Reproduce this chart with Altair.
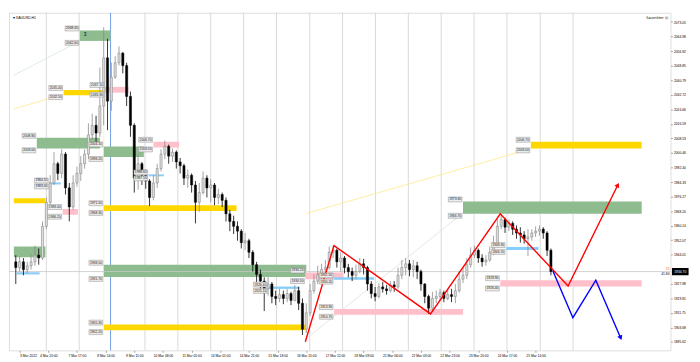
import altair as alt
import pandas as pd

# ---------------- candle data (price) ----------------
first_open = 1940.1
closes = [
    1936.9, 1940.1, 1935.8, 1937.9, 1940.1, 1943.8, 1942.2, 1959.8, 1973.1, 1983.8,
    1994.5, 1989.1, 1999.8, 1981.1, 1970.5, 1983.8, 1989.1, 1994.5, 1999.8, 2010.5,
    2015.8, 2011.5, 2026.5, 2053.2, 2029.2, 2042.5, 2050.5, 2055.8, 2048.9, 2031.8,
    2015.8, 1986.5, 1994.5, 1988.1, 1984.9, 1975.8, 1983.8, 1991.8, 1999.8, 2004.1,
    1998.7, 2000.9, 1995.5, 1993.4, 1986.5, 1988.1, 1982.7, 1973.1, 1978.5, 1986.5,
    1981.1, 1982.7, 1975.8, 1977.4, 1974.2, 1966.7, 1962.5, 1959.8, 1957.1, 1950.7,
    1951.8, 1945.4, 1938.5, 1933.1, 1929.4, 1925.1, 1927.8, 1920.9, 1919.8, 1921.9,
    1919.8, 1922.5, 1918.7, 1924.1, 1917.1, 1902.7, 1911.8, 1924.1, 1929.4, 1933.1,
    1935.8, 1936.9, 1945.4, 1946.5, 1940.1, 1942.2, 1936.9, 1934.7, 1932.6, 1934.7,
    1939.0, 1936.9, 1927.8, 1922.5, 1920.9, 1926.2, 1925.1, 1924.1, 1927.3, 1926.2,
    1932.6, 1936.9, 1939.0, 1935.8, 1937.9, 1934.7, 1927.8, 1920.9, 1914.4, 1919.8,
    1920.9, 1923.0, 1919.8, 1921.9, 1920.9, 1924.1, 1930.5, 1932.6, 1938.5, 1943.8,
    1946.5, 1942.2, 1940.1, 1941.1, 1945.4, 1950.7, 1959.8, 1963.5, 1959.3, 1961.4,
    1958.2, 1956.1, 1955.0, 1952.9, 1953.9, 1956.1, 1957.1, 1958.2, 1956.1, 1946.5,
    1934.7]
highs = [
    1943.8, 1943.3, 1942.2, 1940.1, 1944.3, 1949.1, 1947.5, 1962.5, 1975.8, 1988.1,
    2000.9, 1995.5, 2002.5, 2000.9, 1983.8, 1988.1, 1992.9, 1998.7, 2002.5, 2016.9,
    2022.2, 2021.1, 2047.8, 2070.2, 2063.8, 2050.5, 2054.2, 2059.6, 2056.4, 2050.5,
    2034.5, 2016.9, 1999.8, 1995.5, 1991.3, 1985.9, 1988.1, 1994.5, 2002.5, 2007.3,
    2005.1, 2003.0, 2001.9, 1997.7, 1994.5, 1991.3, 1989.1, 1984.9, 1983.8, 1990.2,
    1988.1, 1985.9, 1983.8, 1980.6, 1978.5, 1975.8, 1968.9, 1965.7, 1962.5, 1958.2,
    1956.1, 1952.9, 1946.5, 1940.1, 1935.8, 1931.5, 1931.5, 1928.9, 1924.1, 1925.1,
    1924.1, 1925.1, 1923.5, 1927.3, 1926.2, 1919.8, 1917.1, 1927.8, 1933.1, 1937.9,
    1939.0, 1941.1, 1948.6, 1949.1, 1947.5, 1945.4, 1943.3, 1939.0, 1936.9, 1938.5,
    1942.2, 1941.7, 1937.9, 1929.4, 1926.2, 1928.3, 1928.9, 1927.3, 1929.4, 1929.4,
    1936.9, 1941.1, 1942.2, 1941.1, 1941.1, 1940.1, 1935.8, 1928.3, 1921.9, 1923.5,
    1924.1, 1925.1, 1924.1, 1925.1, 1925.1, 1927.8, 1934.7, 1936.9, 1942.2, 1948.1,
    1949.1, 1947.5, 1944.3, 1943.8, 1948.6, 1954.5, 1963.5, 1966.7, 1964.6, 1963.5,
    1962.5, 1960.3, 1959.3, 1957.1, 1958.2, 1958.2, 1959.8, 1960.3, 1959.3, 1957.1,
    1947.5]
lows = [
    1927.8, 1934.7, 1932.6, 1933.7, 1935.8, 1937.9, 1938.5, 1941.1, 1958.2, 1970.5,
    1982.7, 1985.4, 1986.5, 1977.4, 1962.5, 1968.9, 1981.7, 1984.9, 1991.8, 1997.1,
    2007.8, 2005.1, 2009.4, 2015.8, 2013.1, 2023.8, 2041.4, 2048.9, 2044.6, 2026.5,
    2009.4, 1978.5, 1980.1, 1982.7, 1980.6, 1971.0, 1974.2, 1981.1, 1990.2, 1997.1,
    1994.5, 1995.5, 1991.8, 1989.1, 1982.7, 1981.1, 1978.5, 1961.4, 1967.8, 1977.4,
    1975.8, 1973.1, 1971.5, 1972.1, 1970.5, 1962.5, 1957.1, 1955.5, 1951.8, 1947.5,
    1946.5, 1942.2, 1934.7, 1926.2, 1925.1, 1912.8, 1921.4, 1917.1, 1916.1, 1917.7,
    1916.6, 1917.7, 1916.1, 1918.2, 1913.4, 1899.5, 1900.6, 1910.2, 1922.5, 1927.8,
    1930.5, 1933.1, 1935.8, 1942.2, 1936.9, 1934.7, 1933.7, 1931.5, 1929.4, 1930.5,
    1933.7, 1933.1, 1924.1, 1919.8, 1918.2, 1919.8, 1923.0, 1921.9, 1923.0, 1923.5,
    1925.1, 1930.5, 1932.6, 1932.1, 1931.5, 1930.5, 1924.1, 1917.1, 1911.2, 1912.3,
    1917.1, 1918.7, 1917.7, 1918.7, 1917.7, 1917.1, 1923.0, 1928.3, 1930.5, 1936.9,
    1942.2, 1939.5, 1937.4, 1937.9, 1940.1, 1943.8, 1949.1, 1958.2, 1956.1, 1957.1,
    1955.0, 1952.9, 1950.7, 1950.2, 1943.3, 1951.8, 1953.9, 1954.5, 1952.9, 1943.3,
    1932.6]

# ---------------- supply / demand zones ----------------
zone_x0 = [16.75, 12.5, 23.25, 5.5, 23.0, 36.0, 34.75, 8.75, 12.25, 23.0, -0.5, -0.5,
           0.25, 23.0, 23.0, 66.0, 75.75, 83.25, 83.25, 117.0, 134.75, 126.75, 128.25]
zone_x1 = [24.75, 23.0, 29.5, 22.0, 33.5, 42.75, 38.75, 11.75, 16.25, 57.75, 7.75, 7.75,
           6.25, 76.0, 76.0, 74.25, 85.75, 93.75, 117.0, 163.75, 163.75, 163.75, 136.75]
zone_top = [2068.4, 2035.4, 2037.1, 2008.9, 2004.1, 2006.7, 1988.6, 1984.1, 1969.4, 1971.5,
            1975.3, 1948.6, 1934.3, 1938.5, 1905.3, 1926.4, 1934.2, 1931.5, 1913.9, 1973.6,
            2006.7, 1929.9, 1948.3]
zone_bot = [2062.6, 2032.5, 2033.9, 2003.0, 1998.2, 2003.5, 1987.5, 1983.0, 1966.2, 1968.3,
            1972.6, 1942.7, 1933.1, 1931.7, 1902.2, 1925.1, 1930.5, 1930.2, 1910.7, 1966.7,
            2003.0, 1926.4, 1946.7]
zone_kind = ["green", "yellow", "pink", "green", "green", "pink", "blue", "blue", "pink",
             "yellow", "yellow", "green", "blue", "green", "yellow", "blue", "pink", "blue",
             "pink", "green", "yellow", "pink", "blue"]
zone_labeled = [True, True, True, True, True, True, True, True, True, True, False, False,
                False, True, True, True, True, True, True, True, True, True, True]
kind_colors = {"green": "#8fbc8f", "yellow": "#ffd700", "pink": "#ffc0cb", "blue": "#87cefa"}

# faint trend lines
trend_x0 = [-0.5, -0.5, 76.0, 76.5, 23.0]
trend_p0 = [2043.6, 2024.9, 1966.9, 1898.4, 2032.5]
trend_x1 = [16.5, 12.25, 134.25, 117.0, 23.0]
trend_p1 = [2062.2, 2032.9, 2002.5, 1967.2, 1905.3]
trend_color = ["#d5e8d5", "#ffe98a", "#ffe98a", "#dde3d5", "#fff2b3"]

# projected zigzags
red_idx = [75.75, 83.25, 108.5, 126.75, 144.5, 157.5]
red_price = [1895.8, 1949.1, 1911.2, 1966.7, 1926.7, 1982.7]
blue_idx = [140.5, 145.75, 151.75, 158.25]
blue_price = [1935.2, 1909.1, 1929.9, 1897.9]

# grid, separator, axes
grid_idx = [8, 16.6, 33.8, 42.4, 51.0, 59.6, 68.2, 76.9, 85.5, 94.1, 102.7, 111.3,
            119.9, 128.5, 137.2, 145.8]
separator_idx = [24.8]
label_idx = [1, 8.5, 16, 23.5, 31, 38.5, 46, 53.5, 61, 68.5, 76, 83.5, 91, 98.5, 106,
             113.5, 121, 128.5, 136]
time_labels = ["3 Mar 2022", "4 Mar 20:00", "7 Mar 17:00", "8 Mar 14:00", "9 Mar 11:00",
               "10 Mar 08:00", "11 Mar 05:00", "14 Mar 01:00", "14 Mar 21:00", "15 Mar 18:00",
               "16 Mar 15:00", "17 Mar 12:00", "18 Mar 09:00", "21 Mar 06:00", "22 Mar 03:00",
               "22 Mar 23:00", "23 Mar 20:00", "24 Mar 17:00", "25 Mar 14:00"]
# (the 1935.94 level is hidden behind the current-price box, as in the reference)
y_ticks = [2073.05, 2064.98, 2056.92, 2048.85, 2040.79, 2032.72, 2024.66, 2016.59, 2008.53,
           2000.46, 1992.40, 1984.33, 1976.27, 1968.20, 1960.14, 1952.07, 1944.01,
           1927.88, 1919.81, 1911.75, 1903.68, 1895.62]
current_price = 1934.7

W, H = 676, 345
FONT = "Liberation Sans"
FS = 3.4

xs = alt.Scale(domain=[-0.5, 170], nice=False, zero=False)
ys = alt.Scale(domain=[1891.0, 2078.2], nice=False, zero=False)

label_expr = "[" + ",".join("'" + t + "'" for t in time_labels) + "][round((datum.value - 1) / 7.5)]"
xaxis = alt.Axis(values=label_idx, labelExpr=label_expr, title=None, grid=False, domain=False,
                 tickSize=2, tickColor="#707070", tickWidth=0.6, labelFontSize=FS,
                 labelFont=FONT, labelColor="#000000", labelPadding=1, labelFlush=12,
                 labelOverlap=False, labelBound=False)
yaxis = alt.Axis(orient="right", values=y_ticks, format=".2f", title=None, grid=False,
                 domain=False, tickSize=2, tickColor="#707070", tickWidth=0.6,
                 labelFontSize=FS, labelFont=FONT, labelColor="#000000", labelPadding=1,
                 labelOverlap=False)


def X(f):
    return alt.X(f + ":Q", scale=xs, axis=xaxis)


def Y(f):
    return alt.Y(f + ":Q", scale=ys, axis=yaxis)


n = len(closes)
opens = [first_open] + closes[:-1]
cdf = pd.DataFrame({"i": list(range(n)), "open": opens, "close": closes,
                    "high": highs, "low": lows})
up = cdf[cdf["close"] >= cdf["open"]]
down = cdf[cdf["close"] < cdf["open"]]

layers = []
# invisible layer carrying both axes
layers.append(alt.Chart(cdf).mark_rule(opacity=0).encode(x=X("i"), y=Y("low"), y2="high"))

# grid + separator
layers.append(alt.Chart(pd.DataFrame({"g": grid_idx})).mark_rule(
    color="#d9d9d9", strokeWidth=1).encode(x=X("g")))
layers.append(alt.Chart(pd.DataFrame({"g": separator_idx})).mark_rule(
    color="#6f9fe6", strokeWidth=1).encode(x=X("g")))

# trend lines
for k in range(len(trend_x0)):
    tdf = pd.DataFrame({"x": [trend_x0[k], trend_x1[k]], "p": [trend_p0[k], trend_p1[k]]})
    layers.append(alt.Chart(tdf).mark_line(color=trend_color[k], strokeWidth=0.8).encode(
        x=X("x"), y=Y("p")))

# zones
zdf = pd.DataFrame({"x0": zone_x0, "x1": zone_x1, "top": zone_top, "bot": zone_bot,
                    "kind": zone_kind, "lab": zone_labeled})
for kind, col in kind_colors.items():
    sub = zdf[zdf["kind"] == kind]
    layers.append(alt.Chart(sub).mark_rect(color=col).encode(
        x=X("x0"), x2="x1", y=Y("top"), y2="bot"))

# current price line
pdf = pd.DataFrame({"p": [current_price], "t": [f"{current_price:.2f}"]})
layers.append(alt.Chart(pdf).mark_rule(color="#c8c8c8", strokeWidth=0.8).encode(y=Y("p")))

# candles
layers.append(alt.Chart(up).mark_rule(color="#8a8a8a", strokeWidth=0.8).encode(
    x=X("i"), y=Y("low"), y2="high"))
layers.append(alt.Chart(down).mark_rule(color="#000000", strokeWidth=0.8).encode(
    x=X("i"), y=Y("low"), y2="high"))
layers.append(alt.Chart(up).mark_bar(width=2.2, fill="#dcdcdc", stroke="#7a7a7a",
                                     strokeWidth=0.5).encode(x=X("i"), y=Y("open"), y2="close"))
layers.append(alt.Chart(down).mark_bar(width=2.2, fill="#000000", stroke="#000000",
                                       strokeWidth=0.5).encode(x=X("i"), y=Y("open"), y2="close"))

# zigzags
rdf = pd.DataFrame({"x": red_idx, "p": red_price, "o": list(range(len(red_idx)))})
bdf = pd.DataFrame({"x": blue_idx, "p": blue_price, "o": list(range(len(blue_idx)))})
layers.append(alt.Chart(rdf).mark_line(color="#ff0000", strokeWidth=1.4).encode(
    x=X("x"), y=Y("p"), order="o:Q"))
layers.append(alt.Chart(bdf).mark_line(color="#0000ff", strokeWidth=1.4).encode(
    x=X("x"), y=Y("p"), order="o:Q"))
layers.append(alt.Chart(rdf.tail(1)).mark_point(shape="triangle-up", filled=True, size=30,
                                                angle=26.5, color="#ff0000", opacity=1).encode(
    x=X("x"), y=Y("p")))
layers.append(alt.Chart(bdf.tail(1)).mark_point(shape="triangle-up", filled=True, size=30,
                                                angle=156.4, color="#0000ff", opacity=1).encode(
    x=X("x"), y=Y("p")))

# zone price labels
lab = zdf[zdf["lab"]]
top_lab = pd.DataFrame({"x": lab["x0"], "p": lab["top"], "t": [f"{v:.2f}" for v in lab["top"]]})
bot_lab = pd.DataFrame({"x": lab["x0"], "p": lab["bot"], "t": [f"{v:.2f}" for v in lab["bot"]]})
box = "M-1,-0.36L1,-0.36L1,0.36L-1,0.36Z"
for d, off in ((top_lab, -2), (bot_lab, 2)):
    layers.append(alt.Chart(d).mark_point(shape=box, size=196, filled=True, fill="#ececec",
                                          stroke="#8c8c8c", strokeWidth=0.5, opacity=1,
                                          xOffset=-8, yOffset=off).encode(x=X("x"), y=Y("p")))
    layers.append(alt.Chart(d).mark_text(font=FONT, fontSize=FS, color="#202020", align="center",
                                         baseline="middle", xOffset=-8, yOffset=off).encode(
        x=X("x"), y=Y("p"), text="t:N"))

# zone number
ndf = pd.DataFrame({"x": [17.75], "p": [2066.6], "t": ["3"]})
layers.append(alt.Chart(ndf).mark_text(font=FONT, fontSize=5, color="#000000", align="left",
                                       baseline="middle").encode(x=X("x"), y=Y("p"), text="t:N"))

# current price marker on the right axis
layers.append(alt.Chart(pdf).mark_point(shape=box, size=225, filled=True, fill="#000000",
                                        stroke="#000000", opacity=1).encode(
    x=alt.value(W + 10), y=Y("p")))
layers.append(alt.Chart(pdf).mark_text(font=FONT, fontSize=FS, color="#ffffff", align="center",
                                       baseline="middle").encode(
    x=alt.value(W + 10), y=Y("p"), text="t:N"))
layers.append(alt.Chart(pdf).mark_text(font=FONT, fontSize=FS, color="#ff6347", align="right",
                                       baseline="middle", dy=-3).encode(
    x=alt.value(W - 1), y=Y("p"), text=alt.value("33")))
layers.append(alt.Chart(pdf).mark_text(font=FONT, fontSize=FS, color="#000000", align="right",
                                       baseline="middle", dy=3).encode(
    x=alt.value(W - 1), y=Y("p"), text=alt.value("41.84")))

# header texts
layers.append(alt.Chart(pdf).mark_text(font=FONT, fontSize=3.6, color="#000000", align="left",
                                       baseline="middle").encode(
    x=alt.value(4), y=alt.value(5), text=alt.value("\u25be XAUUSD,H1")))
layers.append(alt.Chart(pdf).mark_text(font="DejaVu Sans", fontSize=3.6, color="#000000",
                                       align="right", baseline="middle").encode(
    x=alt.value(W - 2), y=alt.value(5), text=alt.value("Saumitter \u263a")))

chart = alt.layer(*layers).properties(width=W, height=H, padding=0).configure_view(
    stroke="#8c8c8c", strokeWidth=1).configure(background="#ffffff")

chart.save("out.html", embed_options={"renderer": "svg", "actions": False})
